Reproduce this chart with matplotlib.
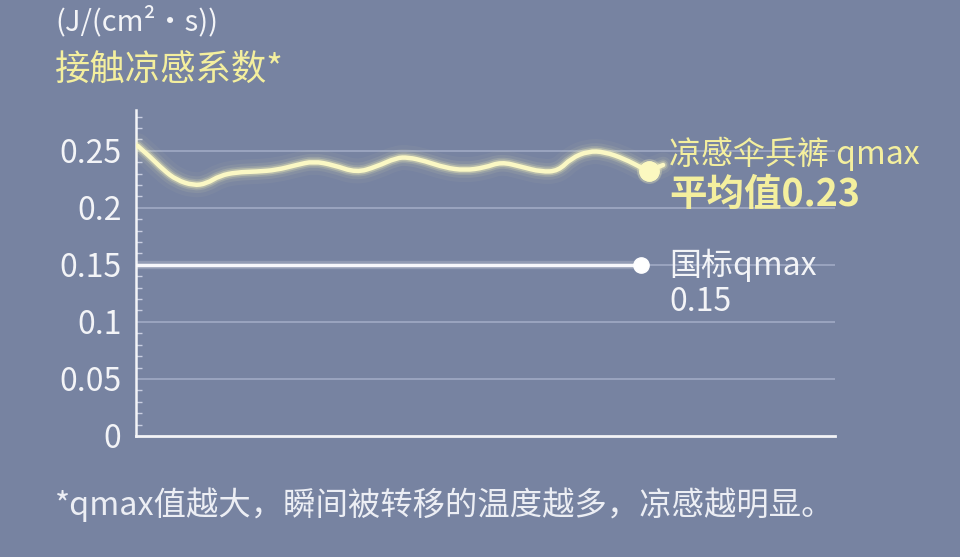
import numpy as np
import matplotlib.pyplot as plt
from matplotlib.path import Path
from matplotlib.patches import PathPatch
from matplotlib.ticker import MultipleLocator

plt.rcParams['font.family'] = ['Noto Sans CJK SC', 'DejaVu Sans']

# data
curve_x = [0.4, 2.9, 5.6, 8.2, 11.6, 14.2, 16.9, 20.2, 24.2, 28.2, 32.2, 35.6,
           39.6, 44.2, 48.2, 52.2, 54.6, 57.9, 61.9, 65.9, 69.9, 73.2, 77.2,
           81.2, 84.6, 87.2, 90.6, 93.9, 97.9, 101.2, 102.7, 105.6]
curve_y = [0.2544, 0.2448, 0.2331, 0.2244, 0.2195, 0.2212, 0.2282, 0.2311,
           0.2317, 0.2331, 0.2375, 0.2408, 0.2375, 0.2308, 0.2360, 0.2438,
           0.2442, 0.2410, 0.2352, 0.2328, 0.2352, 0.2402, 0.2360, 0.2315,
           0.2323, 0.2434, 0.2496, 0.2490, 0.2428, 0.2352, 0.2323, 0.2375]
dot_idx = 30
std_x = [0, 101.2]
std_y = [0.15, 0.15]
yticks = [0, 0.05, 0.1, 0.15, 0.2, 0.25]
ytick_labels = ['0', '0.05', '0.1', '0.15', '0.2', '0.25']

bg = '#7783a1'
yellow = '#f4ef9e'
white = '#f3f4f7'

fig = plt.figure(figsize=(9.6, 5.57), dpi=100, facecolor=bg)
ax = fig.add_axes([135.5 / 960, 1 - 436 / 557, 699.5 / 960, 326 / 557])
ax.set_facecolor(bg)
ax.set_xlim(0, 140)
ax.set_ylim(0, 0.2857)

# grid lines
for v in yticks[1:]:
    ax.axhline(v, color='#a1aac4', lw=1.2, zorder=1)

# smooth path through the read points (quadratic segments between midpoints)
pts = np.column_stack([curve_x, curve_y])
verts = [pts[0]]
codes = [Path.MOVETO]
for i in range(1, len(pts) - 1):
    verts += [pts[i], (pts[i] + pts[i + 1]) / 2]
    codes += [Path.CURVE3, Path.CURVE3]
verts.append(pts[-1])
codes.append(Path.LINETO)
curve_path = Path(verts, codes)

for lw, a in [(18, 0.04), (12, 0.08), (8, 0.15), (5.5, 0.3)]:
    ax.add_patch(PathPatch(curve_path, fill=False, edgecolor='#fffcb8', lw=lw,
                           alpha=a, capstyle='round', joinstyle='round',
                           zorder=3))
ax.add_patch(PathPatch(curve_path, fill=False, edgecolor='#fbf8c4', lw=3.2,
                       capstyle='round', joinstyle='round', zorder=4))
ax.plot(curve_x[dot_idx], curve_y[dot_idx], 'o', color='#fbf8c0',
        ms=14, zorder=5)
ax.plot(curve_x[dot_idx], curve_y[dot_idx], 'o', color='#fffcc0',
        ms=17, alpha=0.2, zorder=5)

# national standard line
ax.plot(std_x, std_y, color='#ffffff', lw=6, alpha=0.2, zorder=3)
ax.plot(std_x, std_y, color='#f8f8fb', lw=2.5, zorder=4)
ax.plot(std_x[-1], std_y[-1], 'o', color='#ffffff', ms=11, zorder=5)

# axes styling
for s in ['top', 'right']:
    ax.spines[s].set_visible(False)
ax.spines['left'].set_color(white)
ax.spines['left'].set_linewidth(1.8)
ax.spines['bottom'].set_color(white)
ax.spines['bottom'].set_linewidth(2)
ax.set_xticks([])
ax.set_yticks(yticks)
ax.set_yticklabels(ytick_labels)
ax.yaxis.set_minor_locator(MultipleLocator(0.01))
ax.tick_params(axis='y', which='major', length=0, pad=10,
               labelsize=23, labelcolor=white)
ax.tick_params(axis='y', which='minor', direction='in', length=4,
               width=1, color='#c8cde0')

# texts
fig.text(55 / 960, 1 - 22 / 557, '(J/(cm²·s))', color=white, fontsize=21,
         va='center', ha='left')
fig.text(55 / 960, 1 - 70 / 557, '接触凉感系数*', color=yellow, fontsize=25.5,
         va='center', ha='left')
fig.text(669 / 960, 1 - 154 / 557, '凉感伞兵裤 qmax', color=yellow,
         fontsize=23, va='center', ha='left')
fig.text(669 / 960, 1 - 194 / 557, '平均值0.23', color=yellow, fontsize=27,
         va='center', ha='left', weight='bold')
fig.text(669 / 960, 1 - 265 / 557, '国标qmax', color=white, fontsize=23,
         va='center', ha='left')
fig.text(669 / 960, 1 - 302 / 557, '0.15', color=white, fontsize=23,
         va='center', ha='left')
fig.text(55 / 960, 1 - 505 / 557, '*qmax值越大，瞬间被转移的温度越多，凉感越明显。',
         color='#eceef4', fontsize=23.3, va='center', ha='left')

fig.savefig('out.png', dpi=100, facecolor=bg)
